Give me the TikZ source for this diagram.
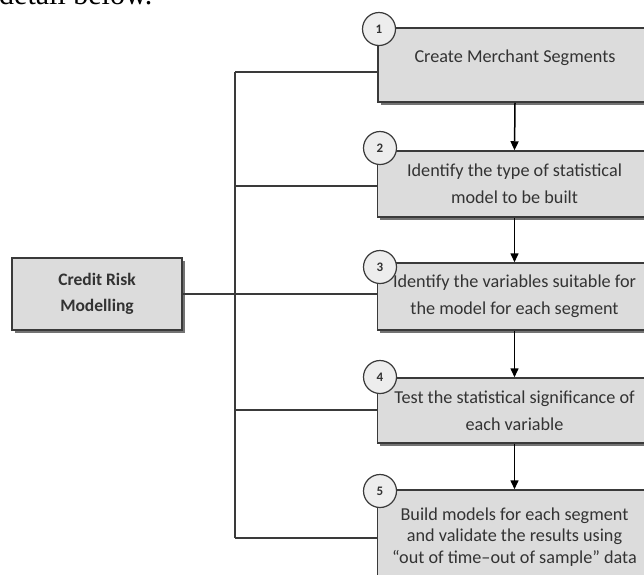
\documentclass[tikz,border=0pt]{standalone}
\usepackage{fontspec}
\setmainfont{Carlito}
\newfontfamily\serifx{Liberation Serif}
\usetikzlibrary{arrows.meta,shadows}
\definecolor{boxfill}{HTML}{DCDCDC}
\definecolor{circfill}{HTML}{EDEDED}
\definecolor{edge}{HTML}{3A3A3A}
\definecolor{txt}{HTML}{333333}
\tikzset{
  stepbox/.style={draw=edge, line width=1.5pt, fill=boxfill, text=txt,
    minimum width=274pt, align=center, inner sep=0pt,
    font=\fontsize{18.2}{27}\selectfont,
    drop shadow={shadow xshift=2.5pt, shadow yshift=-2.5pt, fill=black!55, opacity=1}},
  numcirc/.style={circle, draw=edge, line width=1.2pt, fill=circfill, text=txt,
    minimum size=33pt, inner sep=0pt, font=\fontsize{13}{13}\selectfont\bfseries},
  conn/.style={draw=edge, line width=1.5pt},
  arr/.style={conn, -{Triangle[length=9pt,width=8pt]}, black},
}
\begin{document}
\begin{tikzpicture}[x=1pt,y=-1pt]
\useasboundingbox (0,0) rectangle (644,574);
\clip (0,0) rectangle (644,574);
% cut-off running text at top
\node[anchor=base west, inner sep=0pt, font=\fontsize{30}{30}\selectfont\serifx] (toptext) at (-1,4) {detail below.};
% bus coordinates
\coordinate (t1) at (235,72);
\coordinate (t2) at (235,186);
\coordinate (t4) at (235,410);
\coordinate (t5) at (235,538);
% boxes
\node[stepbox, minimum height=74pt, text depth=18pt] (b1) at (515,65) {Create Merchant Segments};
\node[stepbox, minimum height=66pt] (b2) at (514.5,184) {Identify the type of statistical\\model to be built};
\node[stepbox, minimum height=67pt] (b3) at (514.5,296.5) {Identify the variables suitable for\\the model for each segment};
\node[stepbox, minimum height=65pt] (b4) at (514.5,410.5) {Test the statistical significance of\\each variable};
\node[stepbox, minimum height=94pt, font=\fontsize{18.2}{21.7}\selectfont] (b5) at (514.5,537) {Build models for each segment\\and validate the results using\\``out of time--out of sample'' data};
\node[draw=edge, line width=1.5pt, fill=boxfill, text=txt, minimum width=170pt, minimum height=72pt,
  align=center, inner sep=0pt, font=\fontsize{17.5}{26}\selectfont\bfseries,
  drop shadow={shadow xshift=3pt, shadow yshift=-3pt, fill=black!55, opacity=1}] (cr) at (97,294) {Credit Risk\\Modelling};
% connectors
\draw[conn] (t1) -- (t5);
\draw[conn] (t1) -- (t1 -| b1.west);
\draw[conn] (t2) -- (t2 -| b2.west);
\draw[conn] (cr.east) -- (cr.east -| b3.west);
\draw[conn] (t4) -- (t4 -| b4.west);
\draw[conn] (t5) -- (t5 -| b5.west);
\draw[arr] (b1.south) -- (b2.north);
\draw[arr] (b2.south) -- (b3.north);
\draw[arr] (b3.south) -- (b4.north);
\draw[arr] (b4.south) -- (b5.north);
% number circles
\node[numcirc] (n1) at (379,29) {1};
\node[numcirc] (n2) at (380,148) {2};
\node[numcirc] (n3) at (380,267) {3};
\node[numcirc] (n4) at (380,377) {4};
\node[numcirc] (n5) at (380,491) {5};
\end{tikzpicture}
\end{document}
